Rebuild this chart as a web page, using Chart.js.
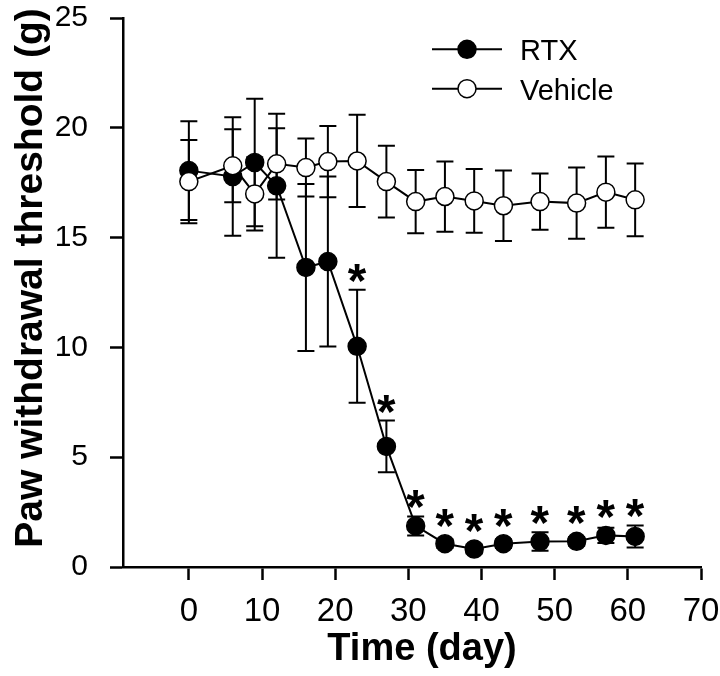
<!DOCTYPE html>
<html><head><meta charset="utf-8">
<script src="https://cdn.jsdelivr.net/npm/chart.js@4.4.1/dist/chart.umd.min.js"></script>
<style>html,body{margin:0;padding:0;background:#fff;}#wrap{width:720px;height:676px;}</style>
</head><body><div id="wrap"><canvas id="c" width="720" height="676"></canvas></div>
<script>
// ---- data ----
const days = [0, 6, 9, 12, 16, 19, 23, 27, 31, 35, 39, 43, 48, 53, 57, 61];
const rtxMean = [18.05, 17.78, 18.42, 17.36, 13.64, 13.91, 10.05, 5.49, 1.87, 1.06, 0.82, 1.06, 1.16, 1.17, 1.44, 1.39];
const rtxSem  = [2.25, 2.7, 2.9, 3.28, 3.8, 3.87, 2.57, 1.18, 0.43, 0.2, 0.2, 0.2, 0.42, 0.2, 0.35, 0.5];
const vehMean = [17.55, 18.27, 16.99, 18.36, 18.19, 18.46, 18.49, 17.55, 16.64, 16.87, 16.67, 16.45, 16.64, 16.57, 17.07, 16.72];
const vehSem  = [1.9, 1.66, 1.67, 1.62, 1.32, 1.62, 2.1, 1.63, 1.44, 1.6, 1.45, 1.6, 1.28, 1.62, 1.62, 1.66];
const rtxSig  = [false, false, false, false, false, false, true, true, true, true, true, true, true, true, true, true];
const xTicks = [0, 10, 20, 30, 40, 50, 60, 70];
const yTicks = [0, 5, 10, 15, 20, 25];
const seriesNames = ['RTX', 'Vehicle'];
const xTitle = 'Time (day)';
const yTitle = 'Paw withdrawal threshold (g)';

const FONT = '"Liberation Sans", Arial, Helvetica, sans-serif';
const R = 9;

const errorBars = {
  id: 'errorBars',
  beforeDatasetsDraw(chart) {
    const ctx = chart.ctx, xs = chart.scales.x, ys = chart.scales.y;
    ctx.save();
    ctx.strokeStyle = '#000';
    ctx.lineWidth = 2;
    const sets = [[rtxMean, rtxSem], [vehMean, vehSem]];
    sets.forEach(([m, s]) => {
      days.forEach((d, i) => {
        const px = xs.getPixelForValue(d);
        const top = ys.getPixelForValue(m[i] + s[i]);
        const bot = ys.getPixelForValue(m[i] - s[i]);
        ctx.beginPath();
        ctx.moveTo(px, top); ctx.lineTo(px, bot);
        ctx.moveTo(px - 8.5, top); ctx.lineTo(px + 8.5, top);
        ctx.moveTo(px - 8.5, bot); ctx.lineTo(px + 8.5, bot);
        ctx.stroke();
      });
    });
    ctx.restore();
  }
};

const annotations = {
  id: 'annotations',
  afterDraw(chart) {
    const ctx = chart.ctx, xs = chart.scales.x, ys = chart.scales.y;
    ctx.save();
    // stars
    let size = 40;
    ctx.font = 'bold ' + size + 'px ' + FONT;
    let m = ctx.measureText('*');
    let w = m.actualBoundingBoxLeft + m.actualBoundingBoxRight;
    size = size * 19 / w;
    ctx.font = 'bold ' + size + 'px ' + FONT;
    m = ctx.measureText('*');
    ctx.fillStyle = '#000';
    ctx.textAlign = 'left';
    ctx.textBaseline = 'alphabetic';
    days.forEach((d, i) => {
      if (!rtxSig[i]) return;
      const px = xs.getPixelForValue(d);
      const capY = ys.getPixelForValue(rtxMean[i] + rtxSem[i]);
      const mkY = ys.getPixelForValue(rtxMean[i]) - R;
      const cy = Math.min(capY, mkY) - 17;
      const bx = px - (m.actualBoundingBoxRight - m.actualBoundingBoxLeft) / 2;
      const by = cy - (m.actualBoundingBoxDescent - m.actualBoundingBoxAscent) / 2;
      ctx.fillText('*', bx, by);
    });
    // legend
    const ly = [49.3, 88.7];
    ly.forEach((y, k) => {
      ctx.strokeStyle = '#000';
      ctx.lineWidth = 2;
      ctx.beginPath(); ctx.moveTo(432, y); ctx.lineTo(502, y); ctx.stroke();
      ctx.beginPath(); ctx.arc(467, y, R, 0, Math.PI * 2);
      ctx.fillStyle = k === 0 ? '#000' : '#fff';
      ctx.fill();
      ctx.lineWidth = 1.5; ctx.stroke();
      ctx.fillStyle = '#000';
      ctx.font = '29px ' + FONT;
      ctx.textAlign = 'left';
      ctx.textBaseline = 'alphabetic';
      ctx.fillText(seriesNames[k], 520, y + 11);
    });
    // axis titles
    ctx.fillStyle = '#000';
    ctx.font = 'bold 38px ' + FONT;
    ctx.textAlign = 'center';
    ctx.textBaseline = 'alphabetic';
    ctx.fillText(xTitle, 422, 660);
    ctx.save();
    ctx.translate(42, 278);
    ctx.rotate(-Math.PI / 2);
    ctx.font = 'bold 39px ' + FONT;
    ctx.fillText(yTitle, 0, 0);
    ctx.restore();
    ctx.restore();
  }
};

new Chart(document.getElementById('c'), {
  type: 'line',
  data: {
    datasets: [
      {
        label: seriesNames[0],
        data: days.map((d, i) => ({ x: d, y: rtxMean[i] })),
        borderColor: '#000', borderWidth: 2,
        pointRadius: R, pointBorderWidth: 1.5,
        pointBackgroundColor: '#000', pointBorderColor: '#000',
        tension: 0, order: 1, clip: false
      },
      {
        label: seriesNames[1],
        data: days.map((d, i) => ({ x: d, y: vehMean[i] })),
        borderColor: '#000', borderWidth: 2,
        pointRadius: R, pointBorderWidth: 1.5,
        pointBackgroundColor: '#fff', pointBorderColor: '#000',
        tension: 0, order: 0, clip: false
      }
    ]
  },
  options: {
    responsive: false, animation: false, devicePixelRatio: 1,
    layout: { autoPadding: false, padding: { top: 18, right: 19, left: 0, bottom: 0 } },
    plugins: { legend: { display: false }, tooltip: { enabled: false } },
    scales: {
      x: {
        type: 'linear', min: -9, max: 70,
        afterBuildTicks: s => { s.ticks = xTicks.map(v => ({ value: v })); },
        afterFit: s => { s.height = 109; s.paddingLeft = 0; s.paddingRight = 0; },
        grid: { drawOnChartArea: false, drawTicks: true, tickLength: 13, tickWidth: 2.5, tickColor: '#000' },
        border: { display: true, color: '#000', width: 2.5 },
        ticks: { color: '#000', padding: 12, maxRotation: 0, autoSkip: false,
                 font: { family: '"Liberation Sans Narrow", ' + FONT, size: 33 } }
      },
      y: {
        type: 'linear', min: 0, max: 25,
        afterBuildTicks: s => { s.ticks = yTicks.map(v => ({ value: v })); },
        afterFit: s => { s.width = 123; s.paddingTop = 0; s.paddingBottom = 0; },
        grid: { drawOnChartArea: false, drawTicks: true, tickLength: 13, tickWidth: 2.5, tickColor: '#000' },
        border: { display: true, color: '#000', width: 2.5 },
        ticks: { color: '#000', padding: 22, autoSkip: false,
                 font: { family: FONT, size: 30 } }
      }
    }
  },
  plugins: [errorBars, annotations]
});
</script>
</body></html>
